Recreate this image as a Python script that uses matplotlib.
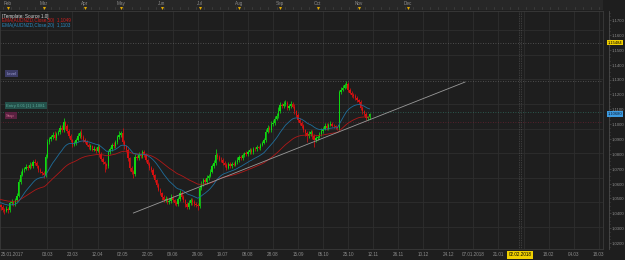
#python 3
# AUDNZD daily candles with two EMAs, trendline and trade levels (dark terminal look)

import numpy as np
import matplotlib.pyplot as plt
from matplotlib.ticker import FixedLocator, MultipleLocator, FuncFormatter
from matplotlib.patches import Rectangle

# daily closes, 25.01.2017 .. 10.11.2017 (bar 0 = 25.01.2017)
closes = [
    1.0455, 1.0440, 1.0425, 1.0418, 1.0432, 1.0420, 1.0468, 1.0475, 1.0462, 1.0490,
    1.0518, 1.0612, 1.0660, 1.0692, 1.0700, 1.0712, 1.0705, 1.0728, 1.0718, 1.0745,
    1.0738, 1.0715, 1.0690, 1.0678, 1.0670, 1.0657, 1.0780, 1.0880, 1.0900, 1.0915,
    1.0928, 1.0905, 1.0935, 1.0948, 1.0975, 1.0960, 1.1012, 1.0985, 1.0955, 1.0920,
    1.0893, 1.0862, 1.0870, 1.0895, 1.0918, 1.0942, 1.0915, 1.0895, 1.0880, 1.0862,
    1.0845, 1.0850, 1.0828, 1.0835, 1.0822, 1.0848, 1.0800, 1.0765, 1.0745, 1.0730,
    1.0718, 1.0810, 1.0835, 1.0858, 1.0850, 1.0880, 1.0912, 1.0930, 1.0942, 1.0880,
    1.0850, 1.0825, 1.0770, 1.0705, 1.0680, 1.0664, 1.0778, 1.0770, 1.0792, 1.0785,
    1.0812, 1.0790, 1.0758, 1.0735, 1.0708, 1.0690, 1.0655, 1.0625, 1.0590, 1.0560,
    1.0536, 1.0510, 1.0490, 1.0498, 1.0476, 1.0485, 1.0505, 1.0488, 1.0470, 1.0462,
    1.0495, 1.0536, 1.0510, 1.0488, 1.0460, 1.0442, 1.0470, 1.0490, 1.0475, 1.0462,
    1.0455, 1.0448, 1.0570, 1.0598, 1.0622, 1.0610, 1.0640, 1.0652, 1.0680, 1.0715,
    1.0740, 1.0792, 1.0780, 1.0762, 1.0758, 1.0740, 1.0725, 1.0705, 1.0730, 1.0718,
    1.0735, 1.0728, 1.0745, 1.0760, 1.0778, 1.0770, 1.0790, 1.0805, 1.0798, 1.0815,
    1.0826, 1.0810, 1.0835, 1.0832, 1.0845, 1.0840, 1.0860, 1.0875, 1.0893, 1.0950,
    1.0975, 1.0960, 1.0998, 1.1010, 1.1035, 1.1055, 1.1090, 1.1128, 1.1120, 1.1135,
    1.1142, 1.1108, 1.1120, 1.1135, 1.1118, 1.1085, 1.1060, 1.1030, 1.1007, 1.0985,
    1.0960, 1.0940, 1.0918, 1.0935, 1.0948, 1.0920, 1.0893, 1.0905, 1.0915, 1.0935,
    1.0955, 1.0968, 1.0988, 1.0975, 1.0995, 1.1000, 1.0990, 1.0985, 1.0978, 1.0972,
    1.1215, 1.1232, 1.1245, 1.1260, 1.1270, 1.1230, 1.1210, 1.1195, 1.1188, 1.1175,
    1.1160, 1.1150, 1.1110, 1.1085, 1.1068, 1.1040, 1.1045, 1.1068,
]
first_open = 1.0470

# wick lengths in pips above / below the body
upper_wick = [
    12, 8, 15, 10, 18, 9, 14, 20, 11, 16, 22, 18, 25, 12, 10, 17, 14, 20, 9, 15,
    18, 12, 10, 14, 8, 16, 20, 22, 15, 12, 18, 24, 10, 14, 20, 16, 28, 12, 15, 10,
    14, 9, 18, 12, 20, 15, 22, 10, 13, 16, 11, 14, 9, 18, 12, 20, 15, 10, 12, 8,
    10, 16, 14, 12, 20, 15, 18, 22, 14, 30, 12, 10, 16, 9, 14, 12, 20, 15, 18, 10,
    16, 12, 14, 10, 9, 12, 15, 10, 8, 14, 12, 10, 15, 18, 12, 20, 22, 15, 10, 12,
    18, 24, 14, 12, 10, 15, 20, 12, 10, 14, 12, 15, 18, 22, 16, 14, 20, 12, 15, 18,
    22, 40, 15, 12, 18, 14, 10, 16, 12, 14, 10, 12, 15, 18, 14, 12, 16, 10, 14, 12,
    15, 12, 10, 14, 12, 10, 16, 12, 15, 20, 18, 14, 22, 16, 18, 20, 24, 18, 15, 20,
    18, 14, 16, 20, 12, 15, 12, 14, 10, 12, 15, 10, 12, 18, 14, 10, 12, 15, 14, 12,
    16, 14, 18, 20, 15, 18, 14, 12, 10, 12, 14, 16, 18, 15, 22, 12, 14, 10, 12, 15,
    12, 10, 14, 12, 10, 12, 8, 10,
]
lower_wick = [
    14, 20, 18, 25, 12, 16, 10, 12, 15, 10, 12, 8, 14, 10, 12, 9, 15, 10, 14, 12,
    10, 12, 15, 10, 14, 18, 12, 10, 14, 12, 16, 10, 12, 9, 14, 10, 12, 16, 14, 12,
    15, 18, 10, 12, 9, 14, 12, 15, 10, 12, 14, 16, 12, 10, 14, 12, 18, 16, 14, 55,
    20, 12, 10, 14, 12, 10, 12, 9, 14, 12, 15, 12, 16, 18, 14, 28, 12, 14, 10, 12,
    12, 14, 10, 12, 15, 14, 12, 16, 14, 12, 15, 18, 12, 14, 12, 10, 14, 12, 15, 12,
    14, 12, 16, 14, 18, 15, 12, 14, 16, 12, 14, 25, 10, 12, 14, 10, 12, 14, 10, 12,
    12, 14, 12, 10, 14, 16, 12, 15, 10, 12, 14, 12, 10, 12, 14, 10, 12, 14, 10, 12,
    14, 12, 10, 12, 14, 10, 12, 10, 12, 14, 10, 12, 10, 12, 14, 10, 12, 14, 12, 10,
    12, 15, 12, 14, 12, 14, 12, 15, 16, 12, 14, 18, 40, 14, 12, 20, 45, 12, 14, 10,
    12, 14, 10, 12, 14, 10, 12, 14, 12, 10, 14, 12, 10, 12, 14, 12, 10, 14, 12, 10,
    12, 14, 12, 14, 12, 14, 12, 10,
]

# EMA starting levels as seen at the left edge
ema_slow_seed = 1.0496
ema_fast_seed = 1.0476

# bottom date labels (first one at bar 0, then every 14 bars from bar 27)
date_labels = ['03.03', '23.03', '12.04', '02.05', '22.05', '09.06', '29.06', '19.07',
               '08.08', '28.08', '15.09', '05.10', '25.10', '12.11', '26.11', '10.12',
               '24.12', '07.01.2018', '21.01', '', '18.02', '04.03', '18.03']
month_names = ['Feb', 'Mar', 'Apr', 'May', 'Jun', 'Jul', 'Aug', 'Sep', 'Oct', 'Nov', 'Dec']
month_bars = [5, 25, 48, 68, 91, 112, 134, 157, 178, 201, 228.5]

# trendline (bar, price) end points and horizontal levels
trend_x = [75.0, 260.3]
trend_y = [1.0402, 1.1283]
level_top = 1.15484
level_line = 1.1290
entry_line = 1.1081
stop_line = 1.1014
marker_bar = 291.0


def ema(values, span, seed):
    k = 2.0 / (span + 1)
    out = []
    prev = seed
    for v in values:
        prev = prev + k * (v - prev)
        out.append(prev)
    return np.array(out)


plt.rcParams['font.family'] = ['Liberation Sans', 'DejaVu Sans']

BG = '#1e1e1e'
GRID = '#2e2e2e'
TXT = '#8c8c8c'
UP = '#10d810'
DN = '#d81010'
FS = 3.3

closes = np.array(closes)
opens = np.concatenate([[first_open], closes[:-1]])
highs = np.maximum(opens, closes) + np.array(upper_wick) * 1e-4
lows = np.minimum(opens, closes) - np.array(lower_wick) * 1e-4
bars = np.arange(len(closes))

ema_slow = ema(closes, 50, ema_slow_seed)
ema_fast = ema(closes, 20, ema_fast_seed)

fig = plt.figure(figsize=(6.25, 2.6), dpi=100, facecolor=BG)
ax = fig.add_axes([0, 11 / 260, 603 / 625, 238 / 260], facecolor=BG)
xmin, xmax = 0.5, 337.4
ymin, ymax = 1.0160, 1.1761
ax.set_xlim(xmin, xmax)
ax.set_ylim(ymin, ymax)

# square pixel grid
grid_bars = [27 + 14 * k for k in range(23)]
for gx in grid_bars:
    ax.axvline(gx, color=GRID, lw=0.6, zorder=0)
for k in range(-1, 9):
    ax.axhline(1.0308 + 0.016546 * k, color=GRID, lw=0.6, zorder=0)

# candles
for i in bars:
    col = UP if closes[i] > opens[i] else DN
    ax.vlines(i, lows[i], highs[i], color=col, lw=0.55, zorder=3)
    ax.add_patch(Rectangle((i - 0.36, min(opens[i], closes[i])), 0.72,
                           max(abs(closes[i] - opens[i]), 0.00012),
                           facecolor=col, edgecolor='none', zorder=4))

ax.plot(bars, ema_slow, color='#b01818', lw=0.6, zorder=5)
ax.plot(bars, ema_fast, color='#1f6e9c', lw=0.6, zorder=5)
ax.plot(trend_x, trend_y, color='#9a9a9a', lw=0.6, zorder=6)

# horizontal levels
ax.axhline(level_top, color='#5e5e5e', lw=0.6, ls=(0, (1, 2)), zorder=1)
ax.axhline(level_line, color='#5e5e5e', lw=0.6, ls=(0, (1, 2)), zorder=1)
ax.axhline(entry_line, color='#2f6a5c', lw=0.6, ls=(0, (1, 2)), zorder=1)
ax.axhline(stop_line, color='#6a2030', lw=0.6, ls=(0, (1, 2)), zorder=1)
ax.axvline(marker_bar - 0.6, color='#5a5a5a', lw=0.5, ls=(0, (1, 1.5)), zorder=1)
ax.axvline(marker_bar + 0.6, color='#5a5a5a', lw=0.5, ls=(0, (1, 1.5)), zorder=1)

# level boxes on the left
box_kw = dict(fontsize=3.1, va='center', ha='left', zorder=8)
ax.text(4.0, level_line + 0.0050, 'Level', color='#9a9ad0',
        bbox=dict(boxstyle='square,pad=0.35', fc='#3c3c66', ec='none'), **box_kw)
ax.text(4.0, entry_line + 0.0042, 'Entry 0.01 [1] 1,1081', color='#58a898',
        bbox=dict(boxstyle='square,pad=0.35', fc='#24504a', ec='none'), **box_kw)
ax.text(4.0, stop_line + 0.0044, 'Stop', color='#d07090',
        bbox=dict(boxstyle='square,pad=0.35', fc='#5a2040', ec='none'), **box_kw)

# legend text
ax.text(0.004, 0.988, '[Template: Source 1.0]', transform=ax.transAxes,
        color='#d8d8d8', fontsize=FS, va='top', ha='left')
ax.text(0.004, 0.969, 'EMA(AUDNZD,Close,50)  %s' % ('%.4f' % ema_slow[-1]).replace('.', ','),
        transform=ax.transAxes, color='#d02020', fontsize=FS, va='top', ha='left')
ax.text(0.004, 0.950, 'EMA(AUDNZD,Close,20)  %s' % ('%.4f' % ema_fast[-1]).replace('.', ','),
        transform=ax.transAxes, color='#2a8ac0', fontsize=FS, va='top', ha='left')

# frame and right axis
for s in ['top', 'left', 'bottom']:
    ax.spines[s].set_color('#3a3a3a')
    ax.spines[s].set_linewidth(0.6)
ax.spines['right'].set_position(('outward', 4))
ax.spines['right'].set_color('#4a4a4a')
ax.spines['right'].set_linewidth(0.6)
ax.plot([1, 1], [0, 1], transform=ax.transAxes, color='#3a3a3a', lw=0.6, clip_on=False)
ax.yaxis.tick_right()
ax.yaxis.set_major_locator(MultipleLocator(0.01))
ax.yaxis.set_minor_locator(MultipleLocator(0.0025))
ax.yaxis.set_major_formatter(FuncFormatter(lambda v, p: ('%.4f' % v).replace('.', ',')))
ax.tick_params(axis='y', colors='#5a5a5a', labelcolor=TXT, labelsize=3.1,
               length=1.5, width=0.4, pad=0.8)
ax.tick_params(axis='y', which='minor', colors='#5a5a5a', length=1, width=0.4)

ax.xaxis.set_major_locator(FixedLocator(grid_bars))
ax.set_xticklabels(date_labels)
ax.tick_params(axis='x', colors='#3a3a3a', labelcolor=TXT, labelsize=FS,
               length=0, pad=2.5)
ax.text(xmin + 0.5, -0.025, '25.01.2017', transform=ax.get_xaxis_transform(),
        color=TXT, fontsize=FS, va='center', ha='left', clip_on=False)

# price tags on the right
tag_x = 1.0 + 5 / 603
ax.text(tag_x, level_top, ('%.5f' % level_top).replace('.', ','),
        transform=ax.get_yaxis_transform(), fontsize=3.0, color='black',
        va='center', ha='left', clip_on=False, zorder=10,
        bbox=dict(boxstyle='square,pad=0.2', fc='#f0d000', ec='none'))
ax.text(tag_x, closes[-1], ('%.5f' % closes[-1]).replace('.', ','),
        transform=ax.get_yaxis_transform(), fontsize=3.0, color='#0a1a30',
        va='center', ha='left', clip_on=False, zorder=10,
        bbox=dict(boxstyle='square,pad=0.2', fc='#3d9be0', ec='none'))
ax.text(marker_bar, -0.025, '02.02.2018', transform=ax.get_xaxis_transform(),
        fontsize=FS, color='black', va='center', ha='center', clip_on=False, zorder=10,
        bbox=dict(boxstyle='square,pad=0.25', fc='#f0d000', ec='none'))

# month strip on top
top = fig.add_axes([0, 250 / 260, 603 / 625, 10 / 260], facecolor='#272727', sharex=ax)
top.set_ylim(0, 1)
for s in top.spines.values():
    s.set_visible(False)
top.axhline(0.02, color='#3c3c3c', lw=0.8)
top.tick_params(left=False, bottom=False, labelleft=False, labelbottom=False)
for t in np.arange(2, 337, 4.5):
    top.plot([t, t], [0.12, 0.3], color='#4a4a4a', lw=0.4)
for name, mb in zip(month_names, month_bars):
    top.text(mb, 0.68, name, color=TXT, fontsize=FS, ha='center', va='center')
    top.plot(mb, 0.25, marker='v', color='#e0a800', ms=2.2, mec='none')

fig.savefig('out.png', dpi=100, facecolor=BG)
